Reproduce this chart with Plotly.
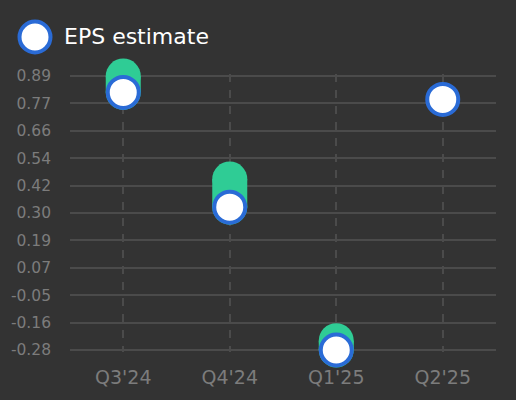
import numpy as np
import plotly.graph_objects as go

quarters = ["Q3'24", "Q4'24", "Q1'25", "Q2'25"]
eps_estimate = [0.82, 0.33, -0.28, 0.79]
eps_actual = [0.89, 0.45, -0.24, None]
y_tick_labels = ["-0.28", "-0.16", "-0.05", "0.07", "0.19", "0.30",
                 "0.42", "0.54", "0.66", "0.77", "0.89"]

BG = "#333333"
GRID = "#4b4b4b"
TICK = "#7c7c7c"
GREEN = "#2fcc95"
BLUE = "#2a6bd6"
DOT = 35

fig = go.Figure()

# green pills from estimate to actual
for q, est, act in zip(quarters, eps_estimate, eps_actual):
    if act is None:
        continue
    fig.add_trace(go.Scatter(
        x=[q, q], y=[est, act],
        mode="lines+markers",
        line=dict(color=GREEN, width=DOT),
        marker=dict(color=GREEN, size=DOT, line=dict(width=0)),
        cliponaxis=False, hoverinfo="skip", showlegend=False,
    ))

fig.add_trace(go.Scatter(
    x=quarters, y=eps_estimate,
    mode="markers", name="EPS estimate",
    marker=dict(color="white", size=DOT - 4, line=dict(color=BLUE, width=4)),
    cliponaxis=False, hoverinfo="skip", showlegend=False,
))

y_lo = min(eps_estimate)
y_hi = max(a for a in eps_actual if a is not None)
tickvals = np.linspace(y_lo, y_hi, len(y_tick_labels))

W, H = 516, 400
PAD = 2  # px of slack so the end gridlines are drawn
L, R, T, B = 70, 20, 76 - PAD, 50 - PAD
pw, ph = W - L - R, H - T - B
per_px = (y_hi - y_lo) / (ph - 2 * PAD)

# hand-made legend (plotly caps legend marker size)
lx, ly = 35, 37
fig.add_shape(
    type="circle", xref="paper", yref="paper",
    xsizemode="pixel", ysizemode="pixel",
    xanchor=(lx - L) / pw, yanchor=(H - B - ly) / ph,
    x0=-(DOT - 4) / 2, x1=(DOT - 4) / 2, y0=-(DOT - 4) / 2, y1=(DOT - 4) / 2,
    fillcolor="white", line=dict(color=BLUE, width=4),
)
fig.add_annotation(
    text="EPS estimate", xref="paper", yref="paper",
    x=(62 - L) / pw, y=(H - B - ly) / ph,
    xanchor="left", yanchor="middle", showarrow=False,
    font=dict(color="white", size=22, family="DejaVu Sans"),
)

fig.update_layout(
    width=W, height=H,
    margin=dict(l=L, r=R, t=T, b=B),
    paper_bgcolor=BG, plot_bgcolor=BG,
    font=dict(family="DejaVu Sans", color=TICK),
    showlegend=False,
    xaxis=dict(
        range=[-0.5, 3.5], showgrid=True, gridcolor=GRID, gridwidth=2,
        griddash="8px,8px", zeroline=False, showline=False,
        tickfont=dict(size=19, color=TICK), ticklabelstandoff=12,
        fixedrange=True,
    ),
    yaxis=dict(
        range=[y_lo - PAD * per_px, y_hi + PAD * per_px],
        tickvals=tickvals, ticktext=y_tick_labels,
        showgrid=True, gridcolor=GRID, gridwidth=2, zeroline=False,
        showline=False, tickfont=dict(size=15.5, color=TICK),
        ticklabelstandoff=18, fixedrange=True,
    ),
)

fig.write_html(
    "out.html",
    config={"displayModeBar": False},
    post_script="document.body.style.margin='0';",
)
